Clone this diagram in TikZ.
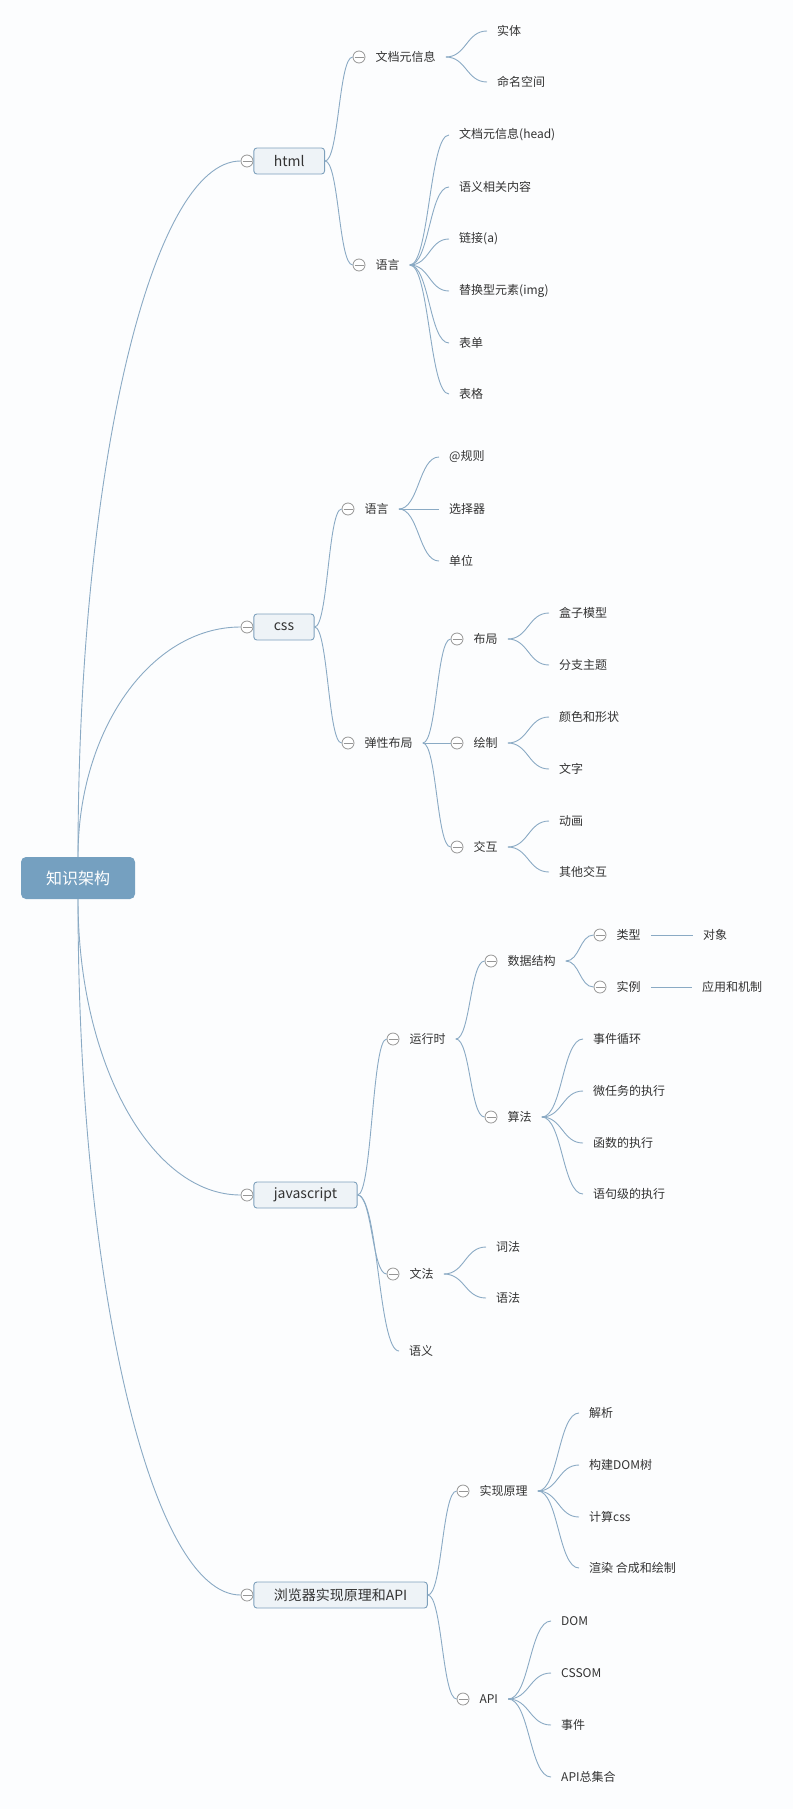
\documentclass[tikz,border=0pt]{standalone}
\usepackage{fontspec}
\usepackage{tikz}
\usetikzlibrary{positioning, calc}
\newfontfamily\cjk{Noto Sans CJK SC}
\definecolor{mapbg}{RGB}{252,253,254}
\definecolor{maproot}{RGB}{117,160,192}
\definecolor{mapline}{RGB}{138,170,196}
\definecolor{mapboxbg}{RGB}{238,243,247}
\definecolor{mapboxborder}{RGB}{125,160,188}
\definecolor{mapfold}{RGB}{150,150,150}
\definecolor{maptext}{RGB}{51,51,51}

\begin{document}
\begin{tikzpicture}[
    x=1pt, y=-1pt,
    root/.style = {
      fill=maproot, rounded corners=5pt,
      minimum width=114pt, minimum height=42pt,
      font=\cjk\fontsize{16}{18}\selectfont, text=white
    },
    main/.style = {
      draw=mapboxborder, fill=mapboxbg, rounded corners=3pt, line width=0.9pt,
      minimum height=26pt, inner xsep=20pt,
      font=\cjk\fontsize{14}{16}\selectfont, text=maptext
    },
    topic/.style = {inner xsep=10pt, inner ysep=3pt, font=\cjk\fontsize{12}{14}\selectfont, text=maptext},
    leaf/.style = {topic, anchor=west},
    fold/.style = {
      circle, draw=mapfold, fill=white, line width=0.8pt,
      minimum size=12pt, inner sep=0pt,
      path picture={\draw[mapfold, line width=0.8pt]
        ([xshift=-4.5pt]path picture bounding box.center) --
        ([xshift=4.5pt]path picture bounding box.center);}
    },
    link/.style = {draw=mapline, line width=0.9pt,
      to path={let \p1=(\tikztostart), \p2=(\tikztotarget) in
        .. controls ({(\x1+\x2)/2},\y1) and ({(\x1+\x2)/2},\y2) .. (\tikztotarget)}},
    rootlink/.style = {draw=mapline, line width=0.9pt,
      to path={let \p1=(\tikztostart), \p2=(\tikztotarget) in
        .. controls (\x1,{\y1+0.552*(\y2-\y1)}) and ({\x2+0.552*(\x1-\x2)},\y2) .. (\tikztotarget)}},
  ]
    \path[use as bounding box, fill=mapbg] (0,0) rectangle (793,1809);

    % Root
    \node[root] (root) at (78,878) {知识架构};

    % Level 1
    \node[fold] (c-html) at (247,161)  {};
    \node[main, right=0pt of c-html] (html) {html};
    \node[fold] (c-css)  at (247,627)  {};
    \node[main, right=0pt of c-css]  (css)  {css};
    \node[fold] (c-js)   at (247,1195) {};
    \node[main, right=0pt of c-js]   (js)   {javascript};
    \node[fold] (c-brw)  at (247,1595) {};
    \node[main, right=0pt of c-brw]  (brw)  {浏览器实现原理和API};

    % Branch: html
    \node[fold] (c-meta) at (359,57) {};
    \node[topic, right=0pt of c-meta] (meta) {文档元信息};
    \node[leaf] (entity) at (487,31) {实体};
    \node[leaf] (ns)     at (487,82) {命名空间};
    \node[fold] (c-hlang) at (359,265) {};
    \node[topic, right=0pt of c-hlang] (hlang) {语言};
    \node[leaf] (head)  at (449,135) {文档元信息(head)};
    \node[leaf] (sem)   at (449,187) {语义相关内容};
    \node[leaf] (href)  at (449,239) {链接(a)};
    \node[leaf] (img)   at (449,291) {替换型元素(img)};
    \node[leaf] (form)  at (449,343) {表单};
    \node[leaf] (table) at (449,394) {表格};

    % Branch: css
    \node[fold] (c-clang) at (348,509) {};
    \node[topic, right=0pt of c-clang] (clang) {语言};
    \node[leaf] (rule) at (439,457) {@规则};
    \node[leaf] (sel)  at (439,509) {选择器};
    \node[leaf] (unit) at (439,561) {单位};
    \node[fold] (c-flex) at (348,743) {};
    \node[topic, right=0pt of c-flex] (flex) {弹性布局};
    \node[fold] (c-layout) at (457,639) {};
    \node[topic, right=0pt of c-layout] (layout) {布局};
    \node[leaf] (boxm)   at (549,613) {盒子模型};
    \node[leaf] (branch) at (549,665) {分支主题};
    \node[fold] (c-paint) at (457,743) {};
    \node[topic, right=0pt of c-paint] (paint) {绘制};
    \node[leaf] (shape) at (549,717) {颜色和形状};
    \node[leaf] (glyph) at (549,769) {文字};
    \node[fold] (c-inter) at (457,847) {};
    \node[topic, right=0pt of c-inter] (inter) {交互};
    \node[leaf] (anim)  at (549,821) {动画};
    \node[leaf] (other) at (549,872) {其他交互};

    % Branch: javascript
    \node[fold] (c-rt) at (393,1039) {};
    \node[topic, right=0pt of c-rt] (rt) {运行时};
    \node[fold] (c-ds) at (491,961) {};
    \node[topic, right=0pt of c-ds] (ds) {数据结构};
    \node[fold] (c-type) at (600,935) {};
    \node[topic, right=0pt of c-type] (type) {类型};
    \node[leaf] (obj) at (693,935) {对象};
    \node[fold] (c-inst) at (600,987) {};
    \node[topic, right=0pt of c-inst] (inst) {实例};
    \node[leaf] (appl) at (692,987) {应用和机制};
    \node[fold] (c-algo) at (491,1117) {};
    \node[topic, right=0pt of c-algo] (algo) {算法};
    \node[leaf] (loop)  at (583,1039) {事件循环};
    \node[leaf] (micro) at (583,1091) {微任务的执行};
    \node[leaf] (func)  at (583,1143) {函数的执行};
    \node[leaf] (stmt)  at (583,1194) {语句级的执行};
    \node[fold] (c-gram) at (393,1274) {};
    \node[topic, right=0pt of c-gram] (gram) {文法};
    \node[leaf] (lex) at (486,1247) {词法};
    \node[leaf] (syn) at (486,1298) {语法};
    \node[leaf] (sema) at (399,1351) {语义};

    % Branch: browser
    \node[fold] (c-impl) at (463,1491) {};
    \node[topic, right=0pt of c-impl] (impl) {实现原理};
    \node[leaf] (parse) at (579,1413) {解析};
    \node[leaf] (domt)  at (579,1465) {构建DOM树};
    \node[leaf] (calc)  at (579,1517) {计算css};
    \node[leaf] (rend)  at (579,1568) {渲染 合成和绘制};
    \node[fold] (c-api) at (463,1699) {};
    \node[topic, right=0pt of c-api] (api) {API};
    \node[leaf] (dom)   at (551,1621) {DOM};
    \node[leaf] (cssom) at (551,1673) {CSSOM};
    \node[leaf] (event) at (551,1725) {事件};
    \node[leaf] (all)   at (551,1777) {API总集合};

    % Links from root
    \draw[rootlink] (root.north) to (c-html.west);
    \draw[rootlink] (root.north) to (c-css.west);
    \draw[rootlink] (root.south) to (c-js.west);
    \draw[rootlink] (root.south) to (c-brw.west);

    % Links html
    \draw[link] (html.east)  to (c-meta.west);
    \draw[link] (html.east)  to (c-hlang.west);
    \draw[link] (meta.east)  to (entity.west);
    \draw[link] (meta.east)  to (ns.west);
    \draw[link] (hlang.east) to (head.west);
    \draw[link] (hlang.east) to (sem.west);
    \draw[link] (hlang.east) to (href.west);
    \draw[link] (hlang.east) to (img.west);
    \draw[link] (hlang.east) to (form.west);
    \draw[link] (hlang.east) to (table.west);

    % Links css
    \draw[link] (css.east)    to (c-clang.west);
    \draw[link] (css.east)    to (c-flex.west);
    \draw[link] (clang.east)  to (rule.west);
    \draw[link] (clang.east)  to (sel.west);
    \draw[link] (clang.east)  to (unit.west);
    \draw[link] (flex.east)   to (c-layout.west);
    \draw[link] (flex.east)   to (c-paint.west);
    \draw[link] (flex.east)   to (c-inter.west);
    \draw[link] (layout.east) to (boxm.west);
    \draw[link] (layout.east) to (branch.west);
    \draw[link] (paint.east)  to (shape.west);
    \draw[link] (paint.east)  to (glyph.west);
    \draw[link] (inter.east)  to (anim.west);
    \draw[link] (inter.east)  to (other.west);

    % Links javascript
    \draw[link] (js.east)   to (c-rt.west);
    \draw[link] (js.east)   to (c-gram.west);
    \draw[link] (js.east)   to (sema.west);
    \draw[link] (rt.east)   to (c-ds.west);
    \draw[link] (rt.east)   to (c-algo.west);
    \draw[link] (ds.east)   to (c-type.west);
    \draw[link] (ds.east)   to (c-inst.west);
    \draw[link] (type.east) to (obj.west);
    \draw[link] (inst.east) to (appl.west);
    \draw[link] (algo.east) to (loop.west);
    \draw[link] (algo.east) to (micro.west);
    \draw[link] (algo.east) to (func.west);
    \draw[link] (algo.east) to (stmt.west);
    \draw[link] (gram.east) to (lex.west);
    \draw[link] (gram.east) to (syn.west);

    % Links browser
    \draw[link] (brw.east)  to (c-impl.west);
    \draw[link] (brw.east)  to (c-api.west);
    \draw[link] (impl.east) to (parse.west);
    \draw[link] (impl.east) to (domt.west);
    \draw[link] (impl.east) to (calc.west);
    \draw[link] (impl.east) to (rend.west);
    \draw[link] (api.east)  to (dom.west);
    \draw[link] (api.east)  to (cssom.west);
    \draw[link] (api.east)  to (event.west);
    \draw[link] (api.east)  to (all.west);
  \end{tikzpicture}
\end{document}
